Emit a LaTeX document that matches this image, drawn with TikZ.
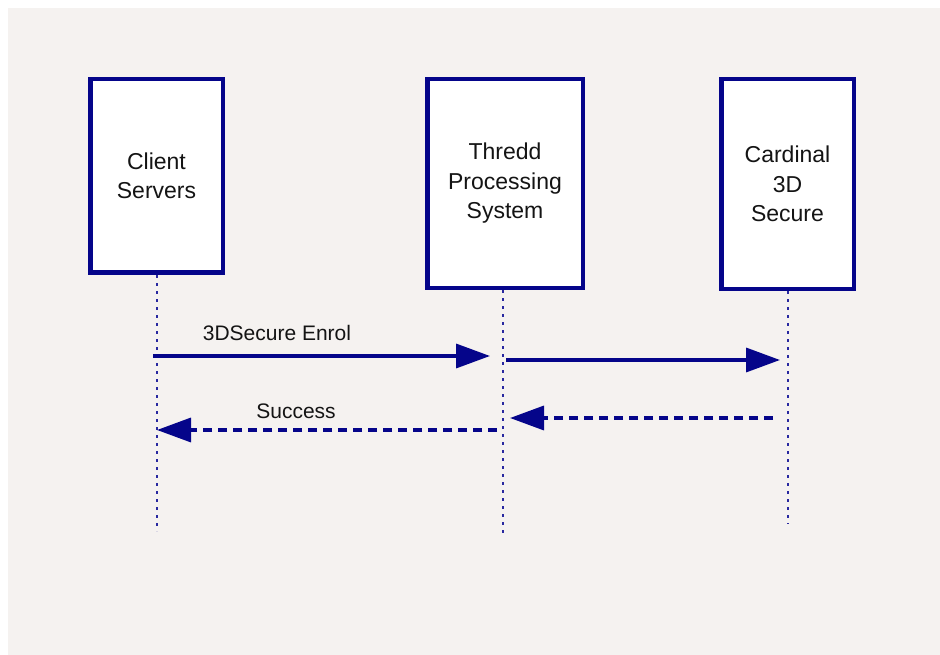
\documentclass[tikz,border=0pt]{standalone}
\usepackage{fontspec}
\setmainfont{Liberation Sans}
\usetikzlibrary{arrows.meta}
\definecolor{bgc}{HTML}{F5F2F0}
\definecolor{navy}{HTML}{05058A}
\definecolor{life}{HTML}{2828A0}
\definecolor{txt}{HTML}{141414}
\tikzset{
  actor/.style={draw=navy, line width=4.5pt, fill=white, align=center, inner sep=0pt,
    font=\fontsize{23}{29.5}\selectfont, text=txt},
  lifeline/.style={draw=life, line width=2.4pt, dash pattern=on 2.5pt off 5.5pt},
  msg/.style={draw=navy, line width=3.5pt, -{Triangle[length=34pt,width=24pt]}},
  reply/.style={msg, dash pattern=on 9pt off 6pt},
  lbl/.style={font=\fontsize{21}{25}\selectfont, text=txt, inner sep=0pt}
}
\begin{document}
\begin{tikzpicture}[x=1pt,y=-1pt]
\useasboundingbox (0,0) rectangle (940,655);
\fill[white] (0,0) rectangle (940,655);
\fill[bgc] (8,8) rectangle (940,655);

\node[actor, minimum width=132.5pt, minimum height=193.5pt] (cs) at (156.5,176) {Client\\Servers};
\node[actor, minimum width=155.5pt, minimum height=208.5pt] (tp) at (505,183.5) {Thredd\\Processing\\System};
\node[actor, minimum width=132.5pt, minimum height=209.5pt] (cd) at (787.5,184) {Cardinal\\3D\\Secure};

\coordinate (b1) at (0,531);
\coordinate (b2) at (0,535);
\coordinate (b3) at (0,524);
\coordinate (l1t) at (157,275);
\coordinate (l2t) at (503,290);
\coordinate (l3t) at (788,291);
\draw[lifeline] (l1t) -- (l1t |- b1);
\draw[lifeline] (l2t) -- (l2t |- b2);
\draw[lifeline] (l3t) -- (l3t |- b3);

\coordinate (m1s) at (153,356);
\coordinate (m1e) at (490,356);
\coordinate (m2s) at (506,360);
\coordinate (m2e) at (780,360);
\coordinate (m3s) at (773,418);
\coordinate (m3e) at (510,418);
\coordinate (m4s) at (497,430);
\coordinate (m4e) at (157,430);
\draw[msg] (m1s) -- (m1e);
\draw[msg] (m2s) -- (m2e);
\draw[reply] (m3s) -- (m3e);
\draw[reply] (m4s) -- (m4e);

\node[lbl] (l1) at (277,333) {3DSecure Enrol};
\node[lbl] (l2) at (296,411) {Success};
\end{tikzpicture}
\end{document}
